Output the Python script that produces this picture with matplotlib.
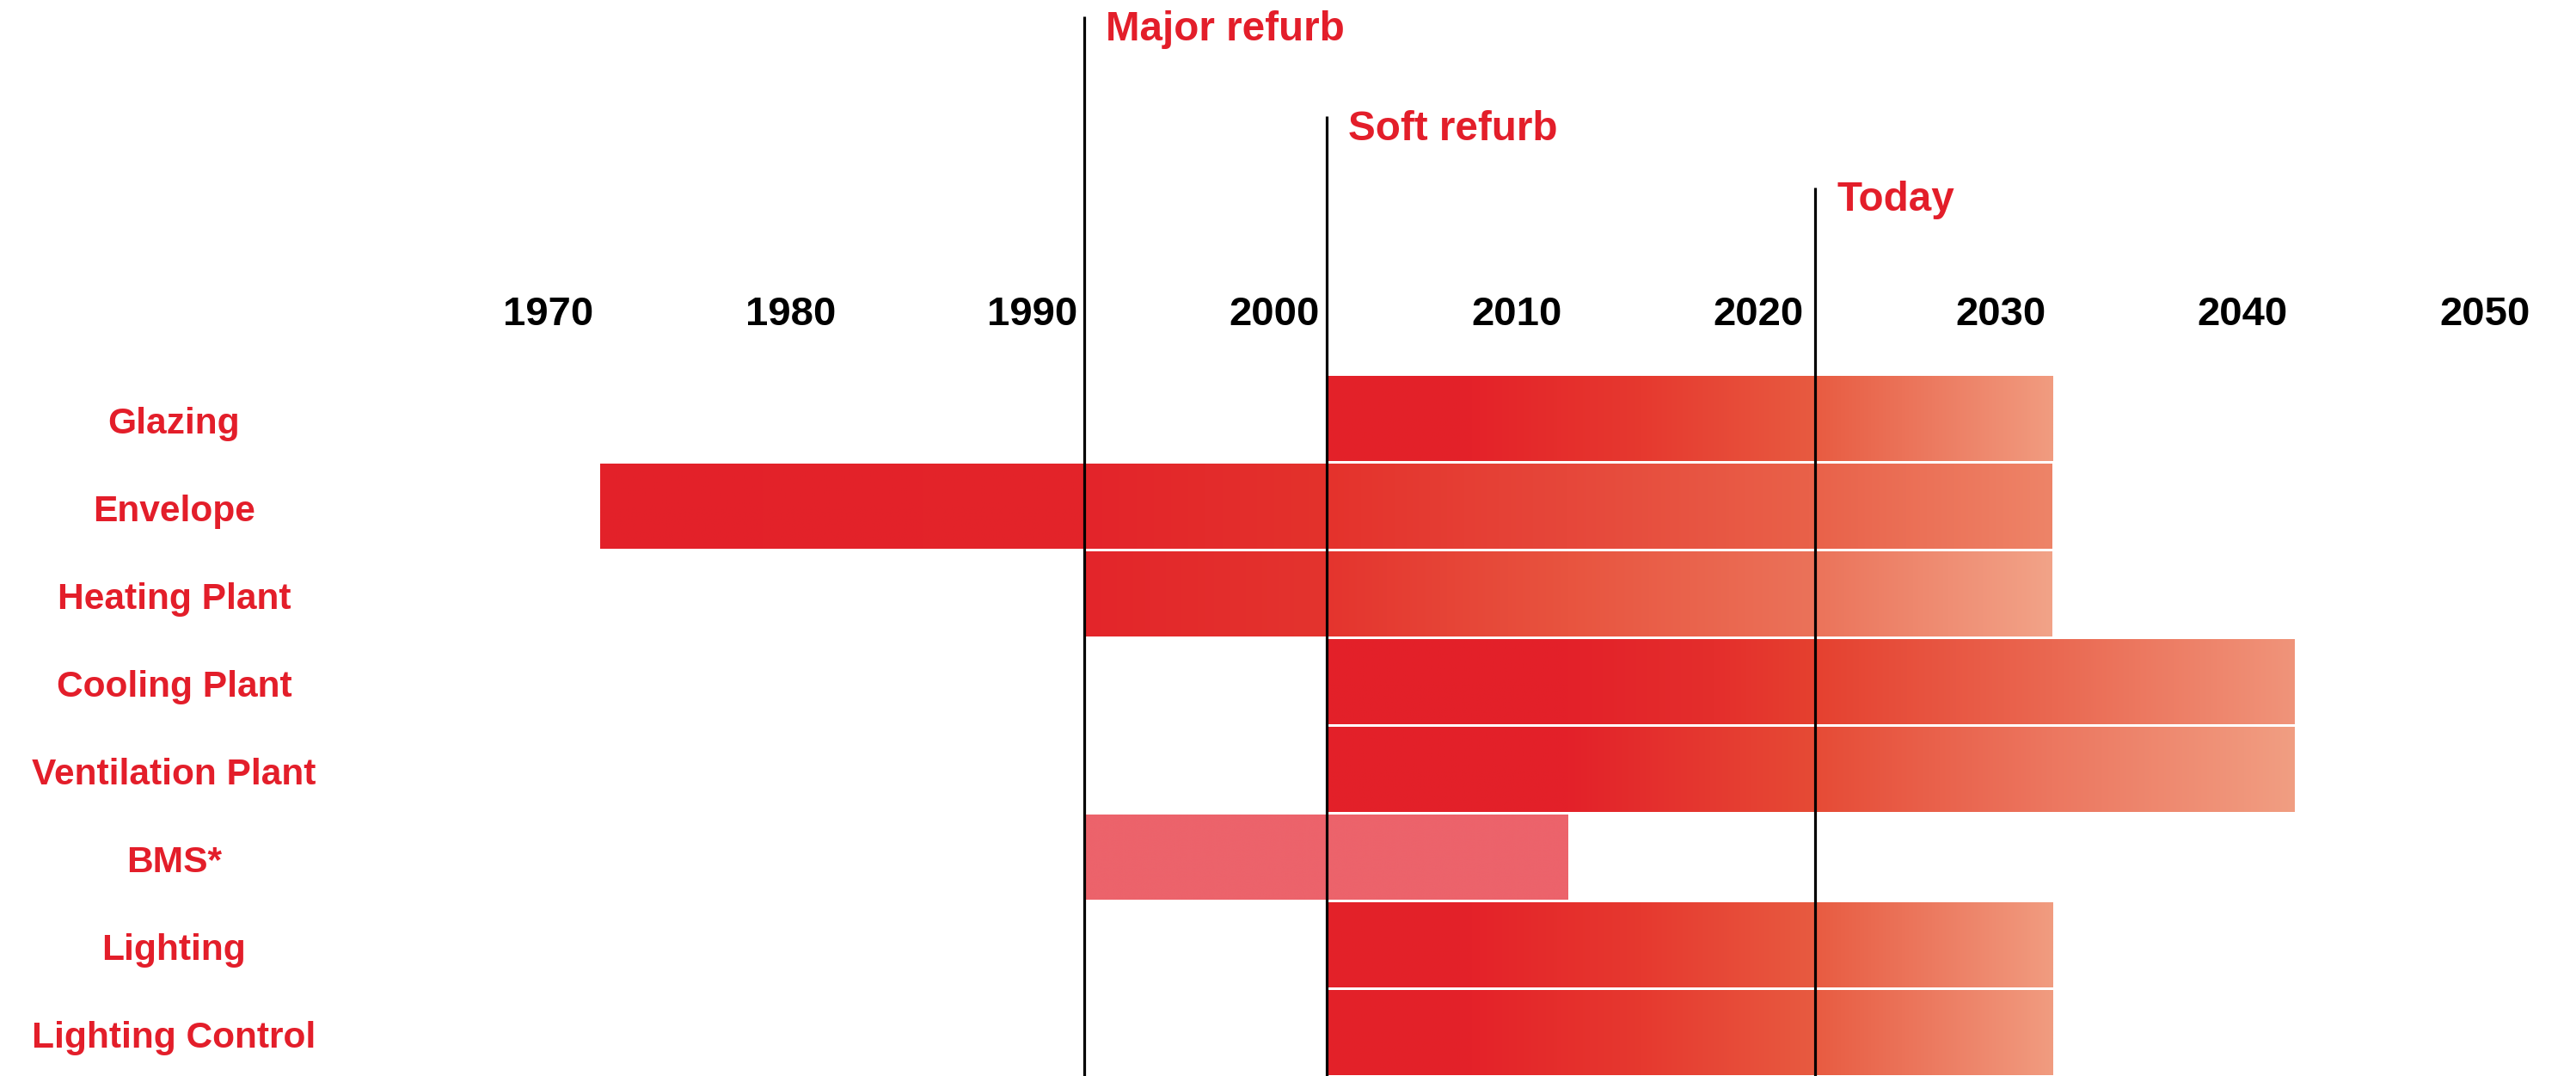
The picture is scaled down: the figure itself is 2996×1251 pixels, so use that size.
import matplotlib
matplotlib.use("Agg")
import matplotlib.pyplot as plt
import matplotlib.transforms as mtransforms
import numpy as np
from matplotlib.colors import to_rgb

# ---------------- data ----------------
categories = ["Glazing", "Envelope", "Heating Plant", "Cooling Plant",
              "Ventilation Plant", "BMS*", "Lighting", "Lighting Control"]
bar_start = [2002, 1972, 1992, 2002, 2002, 1992, 2002, 2002]
bar_end = [2032, 2032, 2032, 2042, 2042, 2012, 2032, 2032]

year_ticks = [1970, 1980, 1990, 2000, 2010, 2020, 2030, 2040, 2050]

events = ["Major refurb", "Soft refurb", "Today"]
event_years = [1992, 2002, 2022.2]

# ---------------- styles ----------------
LABEL_RED = "#E31E2A"
glazing_grad = [(2002, "#E32129"), (2008, "#E42229"), (2015, "#E6392F"),
                (2022, "#E85A40"), (2027, "#EC7A60"), (2032, "#F19C80")]
gradients = [
    glazing_grad,
    [(1972, "#E32129"), (1992, "#E3242A"), (2002, "#E4322C"), (2012, "#E6473A"),
     (2022, "#E96149"), (2032, "#EE8468")],
    [(1992, "#E3252A"), (2002, "#E4342E"), (2012, "#E8543F"), (2022, "#EB7259"),
     (2032, "#F2A388")],
    [(2002, "#E32029"), (2012, "#E32129"), (2018, "#E42E2C"), (2022, "#E5402F"),
     (2032, "#EA6851"), (2042, "#F0947A")],
    [(2002, "#E32029"), (2012, "#E32129"), (2022, "#E64A35"), (2032, "#EC7760"),
     (2042, "#F19E82")],
    [(1992, "#EC636B"), (2012, "#EC636B")],
    glazing_grad,
    glazing_grad,
]
event_line_top = [-4.593, -3.454, -2.64]     # row units
event_text_base = [-4.318, -3.18, -2.375]

W, H, DPI = 2996, 1251, 100
fig = plt.figure(figsize=(W / DPI, H / DPI), dpi=DPI)
ax = fig.add_axes([0, 0, 1, 1])
ax.set_axis_off()

px_per_year = 28.15
x_at_1992 = 1261
xmin = 1992 - x_at_1992 / px_per_year
xmax = 1992 + (W - x_at_1992) / px_per_year
row_px = 101.9
row0 = 487
ytop = -row0 / row_px
ybot = (H - row0) / row_px

bar_h = 0.97
for i, (s, e, stops) in enumerate(zip(bar_start, bar_end, gradients)):
    xs = np.linspace(s, e, 600)
    sy = [p[0] for p in stops]
    cols = np.array([to_rgb(p[1]) for p in stops])
    img = np.stack([np.interp(xs, sy, cols[:, k]) for k in range(3)], axis=-1)[None, :, :]
    ax.imshow(img, extent=[s, e, i + bar_h / 2, i - bar_h / 2], aspect="auto",
              interpolation="bilinear", zorder=2)

ax.set_xlim(xmin, xmax)
ax.set_ylim(ybot, ytop)

font = ["Liberation Sans", "Arial", "DejaVu Sans"]

# category labels
cat_x = 1992 + (202.5 - x_at_1992) / px_per_year
for i, c in enumerate(categories):
    ax.text(cat_x, i + 0.17, c, ha="center", va="baseline", color=LABEL_RED,
            fontsize=30.6, fontweight="bold", family=font, zorder=5)

# year tick labels
for y in year_ticks:
    ax.text(y - 0.14, (378 - row0) / row_px, str(y), ha="center", va="baseline",
            color="black", fontsize=34, fontweight="bold", family=font, zorder=5)

# events
offset = mtransforms.ScaledTranslation(25 / DPI, 0, fig.dpi_scale_trans)
for ev, yr, top, base in zip(events, event_years, event_line_top, event_text_base):
    ax.vlines(yr, top, ybot, color="black", linewidth=2.3, zorder=4)
    ax.text(yr, base, ev, ha="left", va="baseline", color=LABEL_RED,
            fontsize=34.3, fontweight="bold", family=font, zorder=5,
            transform=ax.transData + offset)

fig.savefig("out.png", dpi=DPI, facecolor="white")
